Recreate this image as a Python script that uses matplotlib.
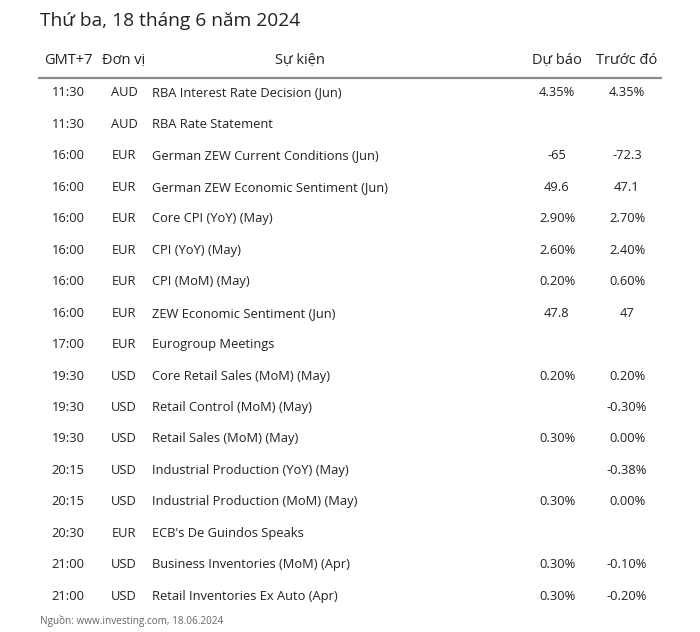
import matplotlib
matplotlib.use('Agg')
import matplotlib.pyplot as plt

title = 'Thứ ba, 18 tháng 6 năm 2024'
headers = ['GMT+7', 'Đơn vị', 'Sự kiện', 'Dự báo', 'Trước đó']
times = ['11:30', '11:30', '16:00', '16:00', '16:00', '16:00', '16:00', '16:00',
         '17:00', '19:30', '19:30', '19:30', '20:15', '20:15', '20:30', '21:00', '21:00']
units = ['AUD', 'AUD', 'EUR', 'EUR', 'EUR', 'EUR', 'EUR', 'EUR',
         'EUR', 'USD', 'USD', 'USD', 'USD', 'USD', 'EUR', 'USD', 'USD']
events = ['RBA Interest Rate Decision (Jun)',
          'RBA Rate Statement',
          'German ZEW Current Conditions (Jun)',
          'German ZEW Economic Sentiment (Jun)',
          'Core CPI (YoY) (May)',
          'CPI (YoY) (May)',
          'CPI (MoM) (May)',
          'ZEW Economic Sentiment (Jun)',
          'Eurogroup Meetings',
          'Core Retail Sales (MoM) (May)',
          'Retail Control (MoM) (May)',
          'Retail Sales (MoM) (May)',
          'Industrial Production (YoY) (May)',
          'Industrial Production (MoM) (May)',
          "ECB's De Guindos Speaks",
          'Business Inventories (MoM) (Apr)',
          'Retail Inventories Ex Auto (Apr)']
forecast = ['4.35%', '', '-65', '49.6', '2.90%', '2.60%', '0.20%', '47.8',
            '', '0.20%', '', '0.30%', '', '0.30%', '', '0.30%', '0.30%']
previous = ['4.35%', '', '-72.3', '47.1', '2.70%', '2.40%', '0.60%', '47',
            '', '0.20%', '-0.30%', '0.00%', '-0.38%', '0.00%', '', '-0.10%', '-0.20%']
source = 'Nguồn: www.investing.com, 18.06.2024'

plt.rcParams['font.family'] = ['Open Sans', 'DejaVu Sans']
txt = '#222222'

fig = plt.figure(figsize=(7, 6.32), dpi=100)
ax = fig.add_axes([0, 0, 1, 1])
ax.set_xlim(0, 700)
ax.set_ylim(632, 0)
ax.axis('off')

ax.text(40, 21, title, fontsize=13.8, color=txt, va='center', ha='left')

col_x = [68, 124, 300, 557, 627]
for x, h in zip(col_x, headers):
    ax.text(x, 61, h, fontsize=10.5, color=txt, va='center', ha='center')
ax.plot([38, 662], [78, 78], color='#8a8a8a', lw=1.6, solid_capstyle='butt')

y0, dy = 93, 31.45
for i in range(len(events)):
    y = y0 + i * dy
    ax.text(col_x[0], y, times[i], fontsize=9.3, color=txt, va='center', ha='center')
    ax.text(col_x[1], y, units[i], fontsize=9.3, color=txt, va='center', ha='center')
    ax.text(152, y, events[i], fontsize=9.3, color=txt, va='center', ha='left')
    ax.text(col_x[3], y, forecast[i], fontsize=9.3, color=txt, va='center', ha='center')
    ax.text(col_x[4], y, previous[i], fontsize=9.3, color=txt, va='center', ha='center')

ax.text(40, 621, source, fontsize=7.2, color='#666666', va='center', ha='left')

fig.savefig('out.png', dpi=100)
